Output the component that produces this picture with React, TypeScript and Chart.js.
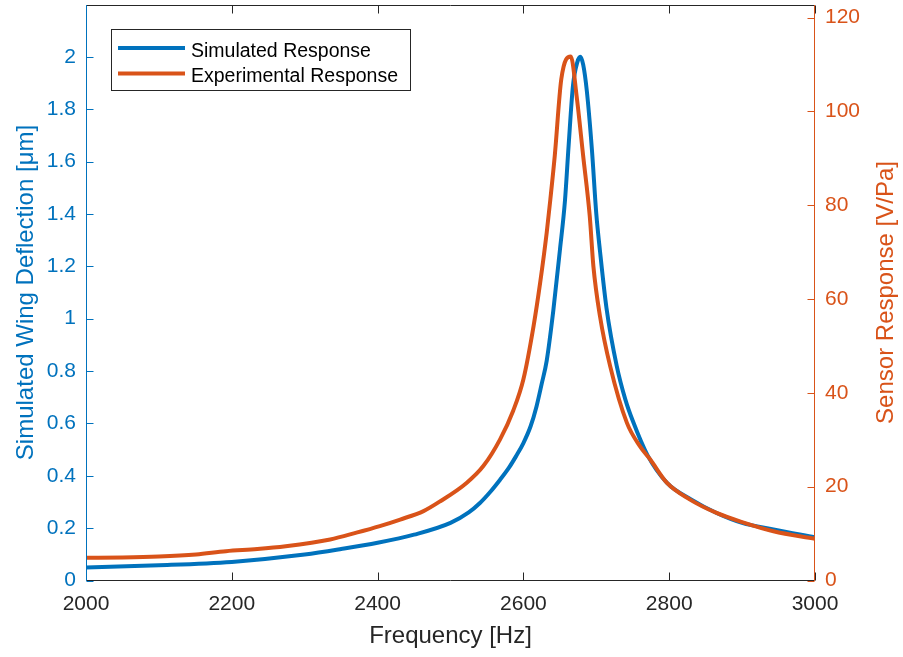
import React, { useEffect, useRef } from 'react';
import { Chart, registerables } from 'chart.js';

Chart.register(...registerables);

// ---- data ----
const simFreq = [2000, 2100, 2200, 2300, 2350, 2400, 2450, 2500, 2525, 2540, 2555, 2568, 2580, 2590, 2600, 2610, 2618, 2625, 2632, 2641, 2650, 2657, 2662, 2668, 2674, 2678, 2682, 2687, 2694, 2700, 2705, 2714, 2728, 2740, 2750, 2770, 2797, 2830, 2865, 2900, 2943, 3000];
const simDeflection = [0.05, 0.058, 0.071, 0.099, 0.12, 0.144, 0.175, 0.22, 0.26, 0.295, 0.34, 0.385, 0.43, 0.475, 0.525, 0.59, 0.665, 0.75, 0.84, 1.03, 1.26, 1.45, 1.66, 1.89, 1.98, 2.0, 1.97, 1.87, 1.645, 1.40, 1.26, 1.04, 0.82, 0.69, 0.61, 0.48, 0.373, 0.31, 0.258, 0.22, 0.195, 0.165];

const expFreq = [2000, 2050, 2100, 2151, 2192, 2235, 2274, 2335, 2371, 2403, 2431, 2463, 2486, 2522, 2545, 2568, 2586, 2600, 2614, 2623, 2632, 2637, 2643, 2652, 2665, 2673, 2682, 2691, 2696, 2705, 2719, 2742, 2760, 2774, 2797, 2828, 2865, 2901, 2943, 3000];
const expResponse = [4.84, 4.9, 5.1, 5.55, 6.25, 6.7, 7.3, 8.75, 10.2, 11.6, 13.0, 14.8, 16.9, 20.8, 24.4, 30.1, 36.2, 42.9, 54.3, 63.5, 74.2, 81.3, 90.5, 106.9, 111.7, 103.3, 90.5, 77.7, 67.0, 56.4, 45.7, 33.6, 28.6, 25.8, 20.8, 17.3, 14.4, 12.4, 10.5, 8.9];

const xTickValues = [2000, 2200, 2400, 2600, 2800, 3000];
const leftTickValues = [0, 0.2, 0.4, 0.6, 0.8, 1, 1.2, 1.4, 1.6, 1.8, 2];
const rightTickValues = [0, 20, 40, 60, 80, 100, 120];

const seriesLabels = ['Simulated Response', 'Experimental Response'];
const xTitle = 'Frequency [Hz]';
const yLeftTitle = 'Simulated Wing Deflection [\u03BCm]';
const yRightTitle = 'Sensor Response [V/Pa]';

const BLUE = '#0072BD';
const ORANGE = '#D95319';
const DARK = '#262626';
const FONT = '"Liberation Sans", Arial, Helvetica, sans-serif';

const framePlugin = {
  id: 'framePlugin',
  afterDatasetsDraw(chart: any) {
    const { ctx, chartArea: a, scales } = chart;
    ctx.save();
    const L = Math.round(a.left) + 0.5;
    const R = Math.round(a.right) - 0.5;
    const T = Math.round(a.top) + 0.5;
    const B = Math.round(a.bottom) - 0.5;
    ctx.lineWidth = 1;
    ctx.strokeStyle = DARK;
    ctx.beginPath();
    ctx.moveTo(L, T); ctx.lineTo(R, T);
    ctx.moveTo(L, B); ctx.lineTo(R, B);
    ctx.stroke();
    ctx.beginPath();
    scales.x.ticks.forEach((t: any) => {
      const px = Math.round(scales.x.getPixelForValue(t.value)) + 0.5;
      ctx.moveTo(px, B); ctx.lineTo(px, B - 8);
      ctx.moveTo(px, T); ctx.lineTo(px, T + 8);
    });
    ctx.stroke();
    ctx.strokeStyle = BLUE;
    ctx.beginPath();
    ctx.moveTo(L, T - 0.5); ctx.lineTo(L, B + 0.5);
    scales.y.ticks.forEach((t: any) => {
      const py = Math.round(scales.y.getPixelForValue(t.value)) + 0.5;
      ctx.moveTo(L, py); ctx.lineTo(L + 7, py);
    });
    ctx.stroke();
    ctx.strokeStyle = ORANGE;
    ctx.beginPath();
    ctx.moveTo(R, T - 0.5); ctx.lineTo(R, B + 0.5);
    scales.y1.ticks.forEach((t: any) => {
      const py = Math.round(scales.y1.getPixelForValue(t.value)) + 0.5;
      ctx.moveTo(R, py); ctx.lineTo(R - 7, py);
    });
    ctx.stroke();

    // right title (reads bottom-to-top)
    ctx.save();
    ctx.translate(886, (a.top + a.bottom) / 2);
    ctx.rotate(-Math.PI / 2);
    ctx.fillStyle = ORANGE;
    ctx.font = `24px ${FONT}`;
    ctx.textAlign = 'center';
    ctx.textBaseline = 'middle';
    ctx.fillText(yRightTitle, 0, 0);
    ctx.restore();

    // legend
    const bx = 111.5, by = 29.5, bw = 299, bh = 61;
    ctx.fillStyle = '#ffffff';
    ctx.fillRect(bx, by, bw, bh);
    ctx.strokeStyle = DARK;
    ctx.lineWidth = 1;
    ctx.strokeRect(bx, by, bw, bh);
    ctx.font = `19.5px ${FONT}`;
    ctx.textAlign = 'left';
    ctx.textBaseline = 'alphabetic';
    const rows = [48, 73.5];
    chart.data.datasets.forEach((ds: any, i: number) => {
      const y = rows[i];
      ctx.strokeStyle = ds.borderColor;
      ctx.lineWidth = 4;
      ctx.beginPath();
      ctx.moveTo(118, y); ctx.lineTo(185, y);
      ctx.stroke();
      ctx.fillStyle = '#000000';
      ctx.fillText(ds.label, 191, y + 8.5);
    });
    ctx.restore();
  },
};

const fmt = (v: any) => String(Math.round(Number(v) * 100) / 100);

export default function App() {
  const ref = useRef<HTMLCanvasElement | null>(null);
  useEffect(() => {
    if (!ref.current) return;
    const lineStyle = {
      borderWidth: 4,
      pointRadius: 0,
      cubicInterpolationMode: 'monotone',
      borderJoinStyle: 'round',
      borderCapStyle: 'round',
    };
    const chart = new Chart(ref.current, {
      type: 'line',
      data: {
        datasets: [
          {
            label: seriesLabels[0],
            data: simFreq.map((f, i) => ({ x: f, y: simDeflection[i] })),
            borderColor: BLUE,
            backgroundColor: BLUE,
            yAxisID: 'y',
            order: 2,
            ...lineStyle,
          },
          {
            label: seriesLabels[1],
            data: expFreq.map((f, i) => ({ x: f, y: expResponse[i] })),
            borderColor: ORANGE,
            backgroundColor: ORANGE,
            yAxisID: 'y1',
            order: 1,
            ...lineStyle,
          },
        ],
      },
      options: {
        animation: false,
        responsive: false,
        devicePixelRatio: 1,
        layout: { padding: { top: 4.5, left: 0, right: 0, bottom: 0 } },
        plugins: { legend: { display: false }, tooltip: { enabled: false } },
        scales: {
          x: {
            type: 'linear',
            min: 2000,
            max: 3000,
            grid: { display: false, drawTicks: false },
            border: { display: false },
            ticks: { autoSkip: false, maxRotation: 0, padding: 11, color: DARK, font: { family: FONT, size: 21 }, callback: fmt },
            title: { display: true, text: xTitle, color: DARK, font: { family: FONT, size: 24 }, padding: { top: 0, bottom: 6.5 } },
            afterBuildTicks: (s: any) => { s.ticks = xTickValues.map((v) => ({ value: v })); },
            afterFit: (s: any) => { s.height = 76.5; s.paddingLeft = 0; s.paddingRight = 0; },
          },
          y: {
            type: 'linear',
            position: 'left',
            min: 0,
            max: 2.2,
            grid: { display: false, drawTicks: false },
            border: { display: false },
            ticks: { autoSkip: false, padding: 10, color: BLUE, font: { family: FONT, size: 21 }, callback: fmt },
            title: { display: true, text: yLeftTitle, color: BLUE, font: { family: FONT, size: 24 }, padding: { top: 12, bottom: 0 } },
            afterBuildTicks: (s: any) => { s.ticks = leftTickValues.map((v) => ({ value: v })); },
            afterFit: (s: any) => { s.width = 86; s.paddingTop = 0; s.paddingBottom = 0; },
          },
          y1: {
            type: 'linear',
            position: 'right',
            min: 0,
            max: 122.8,
            grid: { display: false, drawTicks: false },
            border: { display: false },
            ticks: { autoSkip: false, padding: 10, color: ORANGE, font: { family: FONT, size: 21 }, callback: fmt },
            title: { display: false, text: yRightTitle },
            afterBuildTicks: (s: any) => { s.ticks = rightTickValues.map((v) => ({ value: v })); },
            afterFit: (s: any) => { s.width = 88; s.paddingTop = 0; s.paddingBottom = 0; },
          },
        },
      },
      plugins: [framePlugin],
    } as any);
    return () => chart.destroy();
  }, []);
  return (
    <div style={{ position: 'absolute', left: 0, top: 0, width: 903, height: 657, background: '#ffffff' }}>
      <canvas ref={ref} width={903} height={657} style={{ display: 'block' }} />
    </div>
  );
}
